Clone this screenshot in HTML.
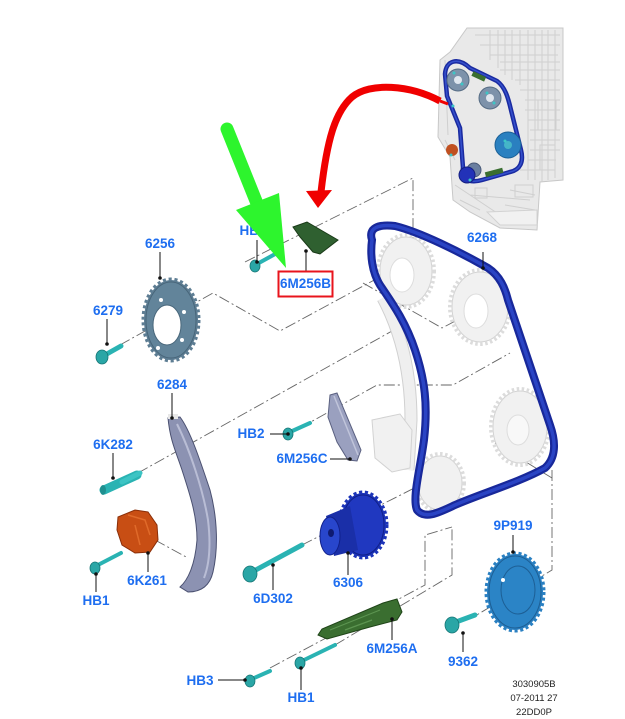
<!DOCTYPE html>
<html><head><meta charset="utf-8"><style>
html,body{margin:0;padding:0;background:#fff;}
svg{display:block;}
.l{font-family:"Liberation Sans",sans-serif;font-weight:bold;font-size:13.5px;fill:#1e6ef0;text-anchor:middle;}
.s{font-family:"Liberation Sans",sans-serif;font-size:9.5px;fill:#222;text-anchor:middle;}
.dd{fill:none;stroke:#666;stroke-width:0.9;stroke-dasharray:11 3 2 3;}
.ld{stroke:#111;stroke-width:1;fill:none;}
.dot{fill:#111;}
.gh{fill:#f1f1f1;stroke:#d2d2d2;stroke-width:1;}
.ght{fill:none;stroke:#dcdcdc;stroke-width:4;stroke-dasharray:2.5 2.5;}
.sh{stroke:#2ab3b3;stroke-linecap:round;}
.hd{fill:#2aa6a6;stroke:#167575;stroke-width:0.8;}
</style></head><body>
<svg width="625" height="719" viewBox="0 0 625 719" xmlns="http://www.w3.org/2000/svg">

<!-- ===== Engine thumbnail ===== -->
<polygon points="467,28 563,28 563,180 540,182 537,230 500,228 470,212 453,200 450,157 438,137 440,60 450,52" fill="#e9e9e9" stroke="#c8c8c8"/>
<g stroke="#cfcfcf" stroke-width="1" fill="none">
<path d="M475,35 L560,35 M480,45 L560,45 M490,55 L558,55 M500,62 L560,62 M500,70 L560,70 M515,80 L560,80 M520,90 L560,90 M525,100 L560,100 M525,110 L560,110 M528,120 L560,120 M530,130 L560,130 M530,140 L560,140 M530,150 L560,150 M528,160 L556,160 M520,170 L550,170"/>
<path d="M490,30 L490,60 M498,30 L498,68 M505,30 L505,75 M512,30 L512,80 M520,30 L520,85 M528,30 L528,180 M535,30 L535,180 M542,30 L542,182 M548,30 L548,180 M555,30 L555,178"/>
<path d="M455,185 L500,215 M470,195 L530,200 M445,140 L455,160 M500,220 L535,225 M460,200 L480,210 M510,190 L535,195 M505,205 L535,210 M445,60 L448,135"/>
<rect x="538" y="100" width="18" height="30"/>
<rect x="540" y="145" width="15" height="25"/>
<rect x="515" y="185" width="18" height="12"/>
<rect x="475" y="188" width="12" height="10"/>
</g>
<path d="M445,74 C446,60 458,57 470,68 L497,81 C505,87 508,97 511,110 L521,150 C524,162 520,170 510,172 L482,180 C468,184 461,178 463,168 L460,128 L447,96 Z" fill="none" stroke="#1a2aa0" stroke-width="4.5"/>
<path d="M445,74 C446,60 458,57 470,68 L497,81 C505,87 508,97 511,110 L521,150 C524,162 520,170 510,172 L482,180 C468,184 461,178 463,168 L460,128 L447,96 Z" fill="none" stroke="#3550cc" stroke-width="1.5"/>
<circle cx="458" cy="80" r="11" fill="#7d92aa" stroke="#566c84"/>
<circle cx="458" cy="80" r="4" fill="#dfe6ee"/>
<circle cx="490" cy="98" r="11" fill="#7d92aa" stroke="#566c84"/>
<circle cx="490" cy="98" r="4" fill="#dfe6ee"/>
<circle cx="508" cy="145" r="13" fill="#2a80c0" stroke="#1a5f95"/>
<circle cx="508" cy="145" r="4" fill="#45b5c8"/>
<circle cx="474" cy="170" r="7" fill="#6a7fa0" stroke="#4a5a78"/>
<circle cx="467" cy="175" r="8" fill="#2232b8" stroke="#141f80"/>
<circle cx="452" cy="150" r="6" fill="#c05020"/>
<rect x="472" y="74" width="14" height="5" fill="#3a6e30" transform="rotate(25 479 76)"/>
<rect x="485" y="170" width="18" height="5" fill="#3a6e30" transform="rotate(-15 494 172)"/>
<g fill="#3cc6c6"><circle cx="454" cy="73" r="1.5"/><circle cx="462" cy="84" r="1.5"/><circle cx="487" cy="93" r="1.5"/><circle cx="494" cy="103" r="1.5"/><circle cx="453" cy="106" r="1.5"/><circle cx="505" cy="141" r="1.5"/><circle cx="451" cy="155" r="1.5"/><circle cx="470" cy="180" r="1.5"/></g>

<!-- ===== Red curved arrow ===== -->
<path d="M440,101 C410,85 370,82 352,97 C335,112 327,140 321,192" fill="none" stroke="#f00000" stroke-width="7"/>
<path d="M440,101 L448,104" stroke="#f00000" stroke-width="3"/>
<polygon points="306,191 332,190 318,208" fill="#f00000"/>

<!-- ===== Dash-dot construction lines ===== -->
<path class="dd" d="M245,262 L413,178 L413,272"/>
<path class="dd" d="M120,345 L213,293 L280,331 L402,265"/>
<path class="dd" d="M363,283 L442,328 L480,308"/>
<path class="dd" d="M300,428 L377,385 L453,385 L510,353"/>
<path class="dd" d="M138,473 L392,331"/>
<path class="dd" d="M155,540 L188,558"/>
<path class="dd" d="M302,545 L440,475"/>
<path class="dd" d="M270,668 L425,585 L425,535 L452,527"/>
<path class="dd" d="M335,645 L452,575 L452,527"/>
<path class="dd" d="M552,470 L552,570 L475,616"/>
<path class="dd" d="M495,443 L552,478"/>

<!-- ===== Ghost parts inside chain ===== -->
<path d="M383,298 C400,330 411,370 411,420 L408,470" fill="none" stroke="#d0d0d0" stroke-width="13"/>
<path d="M383,298 C400,330 411,370 411,420 L408,470" fill="none" stroke="#efefef" stroke-width="11"/>
<polygon points="372,420 400,414 412,430 410,468 392,472 375,458" class="gh"/>
<ellipse cx="406" cy="271" rx="26" ry="34" class="gh"/><ellipse cx="406" cy="271" rx="28" ry="36" class="ght"/>
<ellipse cx="402" cy="275" rx="12" ry="17" fill="#fff" stroke="#ddd"/>
<ellipse cx="480" cy="307" rx="28" ry="35" class="gh"/><ellipse cx="480" cy="307" rx="30" ry="37" class="ght"/>
<ellipse cx="476" cy="311" rx="12" ry="17" fill="#fff" stroke="#ddd"/>
<ellipse cx="520" cy="427" rx="27" ry="36" class="gh"/><ellipse cx="520" cy="427" rx="29" ry="38" class="ght"/>
<ellipse cx="518" cy="430" rx="11" ry="15" fill="#f8f8f8" stroke="#ddd"/>
<ellipse cx="440" cy="483" rx="22" ry="27" class="gh"/><ellipse cx="440" cy="483" rx="24" ry="29" class="ght"/>
<polygon points="487,212 537,210 537,225 500,225" class="gh"/>

<!-- ===== Chain 6268 ===== -->
<path d="M372,240 C368,228 378,224 395,226 C420,232 460,252 488,268 C500,276 505,288 508,300 L550,425 C556,442 556,458 545,468 C520,482 480,494 455,505 C440,512 425,520 417,510 C412,498 420,470 424,440 C428,405 425,380 415,350 C405,320 390,300 380,285 C372,272 370,255 372,240 Z" fill="none" stroke="#18289a" stroke-width="8"/>
<path d="M372,240 C368,228 378,224 395,226 C420,232 460,252 488,268 C500,276 505,288 508,300 L550,425 C556,442 556,458 545,468 C520,482 480,494 455,505 C440,512 425,520 417,510 C412,498 420,470 424,440 C428,405 425,380 415,350 C405,320 390,300 380,285 C372,272 370,255 372,240 Z" fill="none" stroke="#2a44c4" stroke-width="3.5"/>

<!-- ===== 6256 sprocket ===== -->
<ellipse cx="171" cy="320" rx="27" ry="40" fill="#5d7d93" stroke="#5d7d93" stroke-width="5" stroke-dasharray="3 2.6"/>
<ellipse cx="171" cy="320" rx="25" ry="38" fill="#62849a" stroke="#48667a" stroke-width="1"/>
<ellipse cx="167" cy="325" rx="14" ry="20" fill="#fff" stroke="#48667a"/>
<g fill="#fff"><circle cx="161" cy="300" r="2"/><circle cx="184" cy="312" r="2"/><circle cx="182" cy="340" r="2"/><circle cx="158" cy="348" r="2"/></g>

<!-- ===== 6279 bolt ===== -->
<line class="sh" x1="105" y1="355" x2="121" y2="346" stroke-width="5"/>
<ellipse class="hd" cx="102" cy="357" rx="6" ry="7"/>

<!-- ===== 6284 rail ===== -->
<path d="M168,418 L180,417 C190,430 200,460 210,490 C218,520 218,550 213,572 C210,585 202,592 188,592 L180,587 C188,580 195,565 197,540 C197,515 190,495 182,470 C176,452 170,440 168,418 Z" fill="#8c92b2" stroke="#4a5070" stroke-width="1"/>
<path d="M177,424 C190,450 203,490 208,520 C211,545 209,565 204,578" fill="none" stroke="#b9bdd5" stroke-width="2"/>
<rect x="168" y="414" width="10" height="5" fill="#e8e8e8"/>

<!-- ===== 6K282 pin ===== -->
<line x1="104" y1="490" x2="137" y2="475" stroke="#2ab3b3" stroke-width="9" stroke-linecap="round"/>
<line x1="122" y1="482" x2="140" y2="473" stroke="#3cc4c4" stroke-width="5" stroke-linecap="round"/>
<ellipse cx="103" cy="490" rx="3" ry="5" fill="#1f9090"/>

<!-- ===== 6K261 tensioner ===== -->
<path d="M118,517 L135,510 L148,512 L157,525 L158,540 L150,552 L135,553 L122,545 L117,530 Z" fill="#c84e14" stroke="#8a2e08"/>
<path d="M128,515 L145,520 L150,535 M135,525 L140,545" fill="none" stroke="#e06a2a" stroke-width="1.5"/>

<!-- HB1 left -->
<line class="sh" x1="96" y1="566" x2="121" y2="553" stroke-width="4"/>
<ellipse class="hd" cx="95" cy="568" rx="5" ry="6"/>

<!-- ===== 6M256C guide ===== -->
<polygon points="330,395 337,393 361,450 357,461 348,460 337,442 328,417" fill="#9aa0bf" stroke="#5a6080"/>
<line x1="334" y1="396" x2="358" y2="455" stroke="#c0c4da" stroke-width="1.5"/>

<!-- HB2 -->
<line class="sh" x1="290" y1="432" x2="310" y2="423" stroke-width="4"/>
<ellipse class="hd" cx="288" cy="434" rx="5" ry="6"/>

<!-- ===== 6306 crank sprocket ===== -->
<ellipse cx="363" cy="525" rx="23" ry="32" fill="#1c34b8" stroke="#1c34b8" stroke-width="5" stroke-dasharray="3 2.5"/>
<ellipse cx="363" cy="525" rx="21" ry="30" fill="#2038c0" stroke="#10208a"/>
<path d="M326,516 L350,506 L358,550 L334,556 Z" fill="#1a2fa8"/>
<ellipse cx="330" cy="536" rx="10" ry="19" fill="#2846cc" stroke="#10208a"/>
<ellipse cx="331" cy="533" rx="3" ry="4" fill="#0e1a70"/>

<!-- 6D302 bolt -->
<line class="sh" x1="252" y1="572" x2="302" y2="545" stroke-width="5"/>
<ellipse class="hd" cx="250" cy="574" rx="7" ry="8"/>

<!-- ===== 6M256A guide ===== -->
<polygon points="318,635 322,629 383,603 397,599 402,612 397,620 370,627 327,639" fill="#3a6e30" stroke="#1f4418"/>
<path d="M330,630 L380,610 M345,630 L372,620" stroke="#5c9450" stroke-width="1.2"/>

<!-- HB3 / HB1 bottom -->
<line class="sh" x1="252" y1="679" x2="270" y2="671" stroke-width="4"/>
<ellipse class="hd" cx="250" cy="681" rx="5" ry="6"/>
<line class="sh" x1="302" y1="661" x2="335" y2="645" stroke-width="4"/>
<ellipse class="hd" cx="300" cy="663" rx="5" ry="6"/>

<!-- ===== 9P919 sprocket ===== -->
<ellipse cx="515" cy="592" rx="28" ry="38" fill="#2a80c2" stroke="#2a80c2" stroke-width="5" stroke-dasharray="3 2.5"/>
<ellipse cx="515" cy="592" rx="26" ry="36" fill="#2b84c6" stroke="#1d5f95"/>
<ellipse cx="518" cy="590" rx="17" ry="24" fill="none" stroke="#1d5f95"/>
<circle cx="503" cy="580" r="2" fill="#fff"/>

<!-- 9362 bolt -->
<line class="sh" x1="456" y1="622" x2="475" y2="615" stroke-width="5"/>
<ellipse class="hd" cx="452" cy="625" rx="7" ry="8"/>

<!-- ===== 6M256B guide ===== -->
<polygon points="293,227 307,222 338,240 320,254 313,252 300,237" fill="#2f6030" stroke="#1a3a18"/>

<!-- HB top bolt -->
<line class="sh" x1="257" y1="264" x2="277" y2="253" stroke-width="4"/>
<ellipse class="hd" cx="255" cy="266" rx="5" ry="6"/>

<!-- ===== Leader lines ===== -->
<g>
<line class="ld" x1="160" y1="252" x2="160" y2="278"/><circle class="dot" cx="160" cy="278" r="1.8"/>
<line class="ld" x1="107" y1="319" x2="107" y2="344"/><circle class="dot" cx="107" cy="344" r="1.8"/>
<line class="ld" x1="172" y1="393" x2="172" y2="418"/><circle class="dot" cx="172" cy="418" r="1.8"/>
<line class="ld" x1="113" y1="453" x2="113" y2="478"/><circle class="dot" cx="113" cy="478" r="1.8"/>
<line class="ld" x1="148" y1="553" x2="148" y2="572"/><circle class="dot" cx="148" cy="553" r="1.8"/>
<line class="ld" x1="96" y1="574" x2="96" y2="592"/><circle class="dot" cx="96" cy="574" r="1.8"/>
<line class="ld" x1="270" y1="434" x2="288" y2="434"/><circle class="dot" cx="288" cy="434" r="1.8"/>
<line class="ld" x1="330" y1="459" x2="350" y2="459"/><circle class="dot" cx="350" cy="459" r="1.8"/>
<line class="ld" x1="348" y1="553" x2="348" y2="575"/><circle class="dot" cx="348" cy="553" r="1.8"/>
<line class="ld" x1="273" y1="565" x2="273" y2="590"/><circle class="dot" cx="273" cy="565" r="1.8"/>
<line class="ld" x1="392" y1="619" x2="392" y2="640"/><circle class="dot" cx="392" cy="619" r="1.8"/>
<line class="ld" x1="218" y1="680" x2="245" y2="680"/><circle class="dot" cx="245" cy="680" r="1.8"/>
<line class="ld" x1="301" y1="668" x2="301" y2="690"/><circle class="dot" cx="301" cy="668" r="1.8"/>
<line class="ld" x1="513" y1="535" x2="513" y2="552"/><circle class="dot" cx="513" cy="552" r="1.8"/>
<line class="ld" x1="463" y1="633" x2="463" y2="652"/><circle class="dot" cx="463" cy="633" r="1.8"/>
<line class="ld" x1="483" y1="252" x2="483" y2="268"/><circle class="dot" cx="483" cy="268" r="1.8"/>
<line class="ld" x1="306" y1="251" x2="306" y2="272"/><circle class="dot" cx="306" cy="251" r="1.8"/>
<line class="ld" x1="257" y1="240" x2="257" y2="262"/><circle class="dot" cx="257" cy="262" r="1.8"/>
</g>

<!-- ===== Labels ===== -->
<text class="l" x="160" y="248">6256</text>
<text class="l" x="108" y="315">6279</text>
<text class="l" x="172" y="389">6284</text>
<text class="l" x="113" y="449">6K282</text>
<text class="l" x="147" y="585">6K261</text>
<text class="l" x="96" y="605">HB1</text>
<text class="l" x="251" y="438">HB2</text>
<text class="l" x="302" y="463">6M256C</text>
<text class="l" x="348" y="587">6306</text>
<text class="l" x="273" y="603">6D302</text>
<text class="l" x="392" y="653">6M256A</text>
<text class="l" x="200" y="685">HB3</text>
<text class="l" x="301" y="702">HB1</text>
<text class="l" x="513" y="530">9P919</text>
<text class="l" x="463" y="666">9362</text>
<text class="l" x="482" y="242">6268</text>
<text class="l" x="253" y="235">HB1</text>
<rect x="278.5" y="271.5" width="54" height="25" fill="none" stroke="#e8141c" stroke-width="2"/>
<text class="l" x="305.5" y="288">6M256B</text>

<!-- ===== Green arrow (on top) ===== -->
<line x1="227" y1="129" x2="258" y2="206" stroke="#2df52d" stroke-width="13" stroke-linecap="round"/>
<polygon points="236,210 279,193 286,268" fill="#2df52d"/>

<!-- ===== Reference text ===== -->
<text class="s" x="534" y="687">3030905B</text>
<text class="s" x="534" y="701">07-2011 27</text>
<text class="s" x="534" y="715">22DD0P</text>
</svg>
</body></html>
